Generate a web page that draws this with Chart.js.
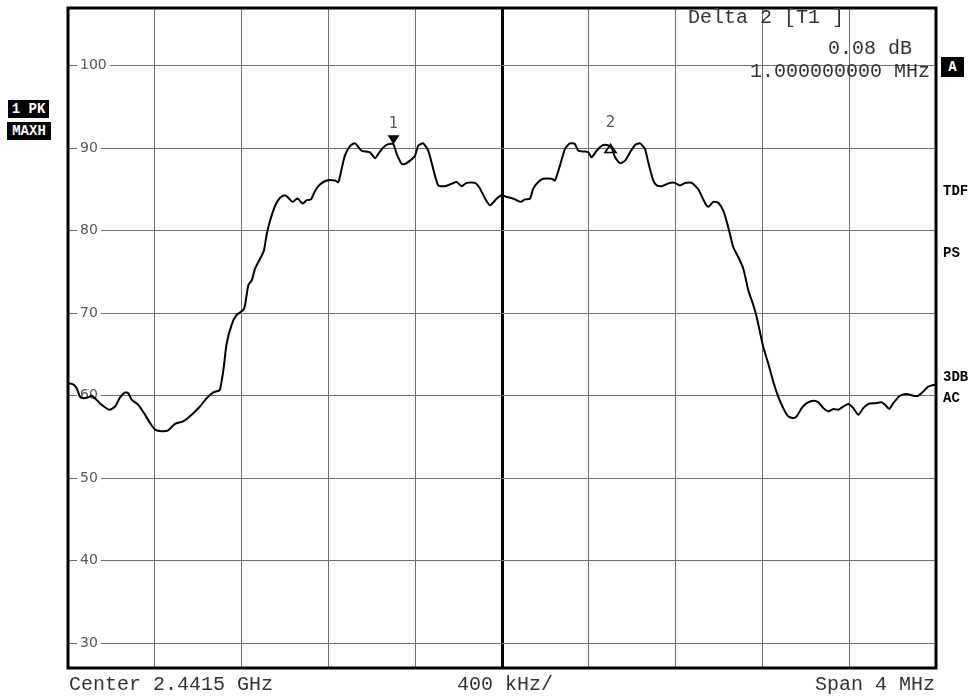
<!DOCTYPE html>
<html>
<head>
<meta charset="utf-8">
<script src="https://cdn.jsdelivr.net/npm/chart.js@4/dist/chart.umd.min.js"></script>
<style>
html,body{margin:0;padding:0;background:#fff;}
#wrap{position:relative;width:974px;height:697px;overflow:hidden;background:#fff;}
#c{position:absolute;left:0;top:0;}
.t{position:absolute;font-family:"Liberation Mono",monospace;font-size:20px;line-height:20px;color:#333;white-space:pre;}
.box{position:absolute;background:#000;color:#fff;font-family:"Liberation Mono",monospace;font-weight:bold;font-size:14px;text-align:center;white-space:pre;}
.side{position:absolute;font-family:"Liberation Mono",monospace;font-weight:bold;font-size:14px;line-height:14px;color:#000;white-space:pre;}
</style>
</head>
<body>
<div id="wrap">
<canvas id="c" width="974" height="697"></canvas>
<div class="t" style="left:688px;top:8px">Delta 2 [T1 ]</div>
<div class="t" style="left:828px;top:39px">0.08 dB</div>
<div class="t" style="left:750px;top:62px">1.000000000 MHz</div>
<div class="t" style="left:69px;top:675px">Center 2.4415 GHz</div>
<div class="t" style="left:457px;top:675px">400 kHz/</div>
<div class="t" style="right:39px;top:675px">Span 4 MHz</div>
<div class="box" style="left:8px;top:100px;width:41px;height:18px;line-height:18px">1 PK</div>
<div class="box" style="left:7px;top:122px;width:44px;height:18px;line-height:18px">MAXH</div>
<div class="box" style="left:941px;top:57px;width:23px;height:20px;line-height:20px">A</div>
<div class="side" style="left:943px;top:184px">TDF</div>
<div class="side" style="left:943px;top:246px">PS</div>
<div class="side" style="left:943px;top:370px">3DB</div>
<div class="side" style="left:943px;top:391px">AC</div>
</div>
<script>
// Frequency offset from centre (MHz) and trace level (dB)
const freqMHz = [-2.000,-1.978,-1.960,-1.945,-1.929,-1.906,-1.891,-1.868,-1.845,-1.810,
-1.783,-1.760,-1.737,-1.722,-1.706,-1.676,-1.645,-1.622,-1.599,-1.567,
-1.539,-1.507,-1.469,-1.430,-1.392,-1.361,-1.330,-1.307,-1.300,-1.284,
-1.269,-1.246,-1.223,-1.192,-1.184,-1.169,-1.153,-1.138,-1.107,-1.097,
-1.084,-1.069,-1.046,-1.023,-1.000,-0.985,-0.965,-0.943,-0.918,-0.900,
-0.880,-0.862,-0.839,-0.808,-0.770,-0.754,-0.739,-0.724,-0.700,-0.677,
-0.647,-0.624,-0.608,-0.585,-0.565,-0.547,-0.524,-0.501,-0.485,-0.462,
-0.447,-0.424,-0.401,-0.386,-0.363,-0.340,-0.317,-0.294,-0.263,-0.232,
-0.209,-0.186,-0.163,-0.124,-0.101,-0.078,-0.055,-0.024,-0.001,0.022,
0.052,0.086,0.106,0.129,0.144,0.167,0.190,0.229,0.244,0.267,
0.290,0.313,0.336,0.352,0.382,0.398,0.413,0.436,0.459,0.482,
0.505,0.521,0.544,0.567,0.590,0.613,0.636,0.659,0.674,0.697,
0.713,0.736,0.774,0.797,0.820,0.843,0.874,0.905,0.935,0.951,
0.974,0.997,1.020,1.043,1.066,1.089,1.112,1.135,1.158,1.173,
1.189,1.204,1.227,1.250,1.273,1.296,1.319,1.342,1.358,1.381,
1.404,1.435,1.458,1.481,1.504,1.527,1.550,1.573,1.596,1.619,
1.642,1.665,1.688,1.719,1.750,1.765,1.785,1.803,1.834,1.865,
1.895,1.918,1.941,1.964,1.988,2.000];

const levelDb = [61.5,61.4,60.9,59.9,59.7,59.8,60.0,59.5,58.9,58.3,
58.7,59.8,60.4,60.3,59.5,58.9,57.7,56.7,55.9,55.7,
55.8,56.6,56.9,57.7,58.7,59.7,60.4,60.6,60.7,63.1,
66.3,68.6,69.8,70.4,71.0,73.4,74.0,75.4,77.0,77.6,
79.6,81.2,83.0,84.0,84.3,84.0,83.5,83.9,83.3,83.7,
83.8,84.8,85.6,86.1,86.1,85.9,87.5,89.1,90.3,90.6,
89.7,89.6,89.5,88.8,89.5,90.1,90.5,90.5,89.3,88.1,
88.1,88.5,89.1,90.3,90.6,89.7,87.5,85.5,85.4,85.7,
85.9,85.4,85.8,85.8,85.1,83.9,83.1,83.9,84.3,84.1,
83.9,83.5,83.8,83.9,85.1,85.9,86.3,86.3,86.1,87.9,
89.9,90.6,90.5,89.7,89.6,89.5,88.9,89.7,90.3,90.4,
90.1,88.9,88.2,88.5,89.5,90.4,90.6,89.9,88.3,86.1,
85.5,85.4,85.8,85.8,85.5,85.8,85.8,85.0,83.4,82.9,
83.5,83.4,82.4,80.4,78.0,76.8,75.4,72.8,71.0,69.6,
67.7,65.9,63.9,61.7,59.9,58.5,57.5,57.3,57.5,58.5,
59.1,59.4,59.2,58.5,58.1,58.4,58.3,58.7,59.0,58.5,
57.7,58.5,59.0,59.1,59.2,58.9,58.4,59.1,60.0,60.2,
60.0,60.0,60.5,61.1,61.3,61.3];

// Markers
const markerNames = ['1', '2'];
const markerFreq = [-0.5, 0.5];
const markerLevel = [90.5, 90.58];

// Axes
const yTickValues = [100, 90, 80, 70, 60, 50, 40, 30];
const xGridValues = [-2, -1.6, -1.2, -0.8, -0.4, 0, 0.4, 0.8, 1.2, 1.6, 2];
const yMin = 27, yMax = 107;
const xMin = -2, xMax = 2;

const framePlugin = {
  id: 'frame',
  beforeDatasetsDraw(chart) {
    const {ctx, chartArea: a} = chart;
    ctx.save();
    ctx.strokeStyle = '#000';
    ctx.lineWidth = 3;
    ctx.strokeRect(a.left, a.top, a.right - a.left, a.bottom - a.top);
    ctx.restore();
  }
};

const markerPlugin = {
  id: 'markers',
  afterDatasetsDraw(chart) {
    const {ctx, scales: {x, y}} = chart;
    markerFreq.forEach((f, i) => {
      const px = x.getPixelForValue(f);
      const py = y.getPixelForValue(markerLevel[i]);
      ctx.save();
      ctx.beginPath();
      if (i === 0) {
        ctx.moveTo(px - 6, py - 9);
        ctx.lineTo(px + 6, py - 9);
        ctx.lineTo(px, py);
        ctx.closePath();
        ctx.fillStyle = '#000';
        ctx.fill();
      } else {
        ctx.moveTo(px, py + 1);
        ctx.lineTo(px - 5.5, py + 9);
        ctx.lineTo(px + 5.5, py + 9);
        ctx.closePath();
        ctx.lineWidth = 1.6;
        ctx.strokeStyle = '#000';
        ctx.stroke();
      }
      ctx.fillStyle = '#555';
      ctx.font = '15px "DejaVu Sans"';
      ctx.textAlign = 'center';
      ctx.textBaseline = 'middle';
      ctx.fillText(markerNames[i], px, py - 20);
      ctx.restore();
    });
  }
};

new Chart(document.getElementById('c'), {
  type: 'line',
  data: {
    datasets: [{
      data: freqMHz.map((f, i) => ({x: f, y: levelDb[i]})),
      borderColor: '#000',
      borderWidth: 2,
      pointRadius: 0,
      tension: 0.2,
      fill: false
    }]
  },
  options: {
    responsive: false,
    animation: false,
    layout: {padding: {left: 68, top: 8, right: 38, bottom: 29}},
    plugins: {legend: {display: false}, tooltip: {enabled: false}},
    scales: {
      x: {
        type: 'linear',
        min: xMin, max: xMax,
        afterBuildTicks: s => { s.ticks = xGridValues.map(v => ({value: v})); },
        afterFit: s => { s.height = 0; s.paddingLeft = 0; s.paddingRight = 0; s.paddingTop = 0; s.paddingBottom = 0; },
        ticks: {display: false},
        border: {display: false},
        grid: {
          drawTicks: false,
          color: c => (c.tick && c.tick.value === 0) ? '#000' : '#6e6e6e',
          lineWidth: c => (c.tick && c.tick.value === 0) ? 3 : 1
        }
      },
      y: {
        type: 'linear',
        min: yMin, max: yMax,
        afterBuildTicks: s => { s.ticks = yTickValues.map(v => ({value: v})); },
        afterFit: s => { s.width = 0; s.paddingTop = 0; s.paddingBottom = 0; s.paddingLeft = 0; s.paddingRight = 0; },
        border: {display: false},
        grid: {drawTicks: false, color: '#6e6e6e', lineWidth: 1},
        ticks: {
          mirror: true,
          padding: 12,
          color: '#555',
          font: {family: 'DejaVu Sans', size: 14},
          showLabelBackdrop: true,
          backdropColor: '#fff',
          backdropPadding: {left: 3, right: 3, top: 1, bottom: 1},
          callback: v => String(v)
        }
      }
    }
  },
  plugins: [framePlugin, markerPlugin]
});
</script>
</body>
</html>
